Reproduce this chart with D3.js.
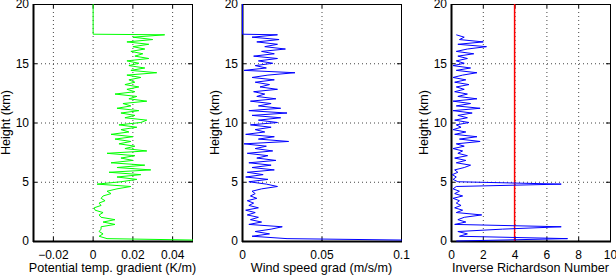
<!DOCTYPE html>
<html>
<head>
<meta charset="utf-8">
<script src="https://cdn.jsdelivr.net/npm/d3@7"></script>
<style>
body { margin: 0; background: #fff; }
svg text { font-family: "Liberation Sans", Arial, sans-serif; font-size: 12px; fill: #000; }
svg text.label { font-size: 12.6px; }
</style>
</head>
<body>
<svg id="chart" width="616" height="276"></svg>
<script>
// heights of the profile (km)
var heights = [0, 0.2, 0.4, 0.6, 0.8, 1.0, 1.2, 1.4, 1.6, 1.8,
  2.0, 2.2, 2.4, 2.6, 2.8, 3.0, 3.2, 3.4, 3.6, 3.8,
  4.0, 4.2, 4.4, 4.6, 4.8, 5.0, 5.2, 5.4, 5.6, 5.8,
  6.0, 6.2, 6.4, 6.6, 6.8, 7.0, 7.2, 7.4, 7.6, 7.8,
  8.0, 8.2, 8.4, 8.6, 8.8, 9.0, 9.2, 9.4, 9.6, 9.8,
  10.0, 10.2, 10.4, 10.6, 10.8, 11.0, 11.2, 11.4, 11.6, 11.8,
  12.0, 12.2, 12.4, 12.6, 12.8, 13.0, 13.2, 13.4, 13.6, 13.8,
  14.0, 14.2, 14.4, 14.6, 14.8, 15.0, 15.2, 15.4, 15.6, 15.8,
  16.0, 16.2, 16.4, 16.6, 16.8, 17.0, 17.2, 17.4, 17.45, 20];

// potential temperature gradient (K/m)
var thetaGrad = [0.08, 0.007, 0.003, 0.005, 0.003, 0.004, 0.004, 0.011, 0.005, 0.011,
  0.004, 0.003, 0.005, 0.001, 0.0005, 0.004, 0.003, 0.006, 0.004, 0.005,
  0.009, 0.007, 0.012, 0.019, 0.002, 0.014, 0.022, 0.012, 0.024, 0.008,
  0.029, 0.012, 0.026, 0.009, 0.020, 0.014, 0.021, 0.007, 0.027, 0.016,
  0.021, 0.013, 0.019, 0.011, 0.020, 0.009, 0.018, 0.014, 0.022, 0.013,
  0.024, 0.027, 0.016, 0.021, 0.014, 0.023, 0.012, 0.019, 0.015, 0.027,
  0.018, 0.022, 0.011, 0.021, 0.017, 0.023, 0.016, 0.021, 0.018, 0.024,
  0.017, 0.032, 0.019, 0.026, 0.018, 0.023, 0.017, 0.028, 0.021, 0.025,
  0.019, 0.026, 0.020, 0.028, 0.017, 0.030, 0.020, 0.036, 0, 0];

// wind speed gradient (m/s/m)
var windGrad = [0.15, 0.028, 0.006, 0.017, 0.008, 0.018, 0.025, 0.004, 0.012, 0.005,
  0.010, 0.003, 0.008, 0.002, 0.010, 0.004, 0.007, 0.003, 0.009, 0.005,
  0.008, 0.006, 0.012, 0.022, 0.015, 0.004, 0.016, 0.002, 0.013, 0.003,
  0.020, 0.006, 0.018, 0.004, 0.021, 0.009, 0.016, 0.003, 0.019, 0.008,
  0.015, 0.001, 0.029, 0.010, 0.020, 0.002, 0.014, 0.008, 0.018, 0.005,
  0.022, 0.010, 0.024, 0.006, 0.028, 0.004, 0.024, 0.010, 0.018, 0.005,
  0.021, 0.009, 0.014, 0.007, 0.022, 0.011, 0.017, 0.008, 0.020, 0.006,
  0.016, 0.033, 0.001, 0.015, 0.008, 0.019, 0.010, 0.022, 0.007, 0.020,
  0.012, 0.027, 0.014, 0.022, 0.009, 0.023, 0.006, 0.022, 0, 0];

// inverse Richardson number
var invRi = [0.3, 7.3, 0.5, 1.0, 0.4, 3.2, 6.9, 0.2, 0.9, 0.4,
  0.8, 1.9, 0.3, 0.7, 0.2, 0.6, 0.3, 0.5, 0.1, 0.7,
  0.2, 0.5, 0.1, 0.3, 6.9, 0.4, 0.1, 0.3, 0.05, 0.4,
  0.2, 0.8, 1.2, 0.3, 0.9, 0.2, 1.0, 0.4, 0.7, 0.1,
  0.8, 0.3, 1.8, 0.5, 1.6, 0.2, 0.9, 0.1, 0.6, 0.3,
  1.1, 0.2, 1.0, 0.4, 1.3, 0.1, 1.8, 0.3, 1.2, 0.1,
  1.6, 0.4, 1.0, 0.2, 0.8, 0.3, 1.1, 0.2, 0.9, 0.1,
  0.7, 1.6, 0.3, 1.2, 0.1, 0.8, 0.3, 1.0, 0.4, 1.4,
  0.3, 1.0, 2.2, 0.4, 2.0, 0.5, 0.8, 0.3, null, null];

var riCritical = 4;

var yTicks = [0, 5, 10, 15, 20];
var thetaTicks = [-0.02, 0, 0.02, 0.04];
var windTicks = [0, 0.05, 0.1];
var riTicks = [0, 2, 4, 6, 8, 10];

var svg = d3.select("#chart");
var yTop = 4, yBottom = 241;

var y = d3.scaleLinear().domain([0, 20]).range([yBottom, yTop]);

var panels = [
  {left: 33, right: 192, domain: [-0.03, 0.05], ticks: thetaTicks, values: thetaGrad,
   color: "#00ff00", label: "Potential temp. gradient (K/m)",
   fmt: function(d) { return d === 0 ? "0" : d3.format(".2f")(d); }},
  {left: 242, right: 401, domain: [0, 0.1], ticks: windTicks, values: windGrad,
   color: "#0000ff", label: "Wind speed grad (m/s/m)",
   fmt: function(d) { return d === 0 ? "0" : String(d); }},
  {left: 451, right: 610, domain: [0, 10], ticks: riTicks, values: invRi,
   color: "#0000ff", label: "Inverse Richardson Number",
   fmt: d3.format("d")}
];

panels.forEach(function(p, i) {
  var x = d3.scaleLinear().domain(p.domain).range([p.left, p.right]);
  var g = svg.append("g");

  // dotted grid
  g.selectAll(".vgrid")
    .data(p.ticks.filter(function(t) { return x(t) > p.left + 1 && x(t) < p.right - 1; }))
    .enter().append("line")
      .attr("x1", function(d) { return x(d) + 0.5; })
      .attr("x2", function(d) { return x(d) + 0.5; })
      .attr("y1", yTop).attr("y2", yBottom)
      .attr("stroke", "#444").attr("stroke-width", 1)
      .attr("stroke-dasharray", "1,3");
  g.selectAll(".hgrid")
    .data(yTicks.filter(function(t) { return t > 0 && t < 20; }))
    .enter().append("line")
      .attr("x1", p.left).attr("x2", p.right)
      .attr("y1", function(d) { return y(d) + 0.5; })
      .attr("y2", function(d) { return y(d) + 0.5; })
      .attr("stroke", "#444").attr("stroke-width", 1)
      .attr("stroke-dasharray", "1,3");

  // axes with ticks pointing inward
  g.append("g")
    .attr("transform", "translate(0," + yBottom + ")")
    .call(d3.axisBottom(x).tickValues(p.ticks).tickFormat(p.fmt)
      .tickSizeInner(-4).tickSizeOuter(0).tickPadding(9));
  g.append("g")
    .attr("transform", "translate(" + p.left + ",0)")
    .call(d3.axisLeft(y).tickValues(yTicks).tickFormat(d3.format("d"))
      .tickSizeInner(-4).tickSizeOuter(0).tickPadding(4));
  g.append("g")
    .attr("transform", "translate(0," + yTop + ")")
    .call(d3.axisTop(x).tickValues(p.ticks).tickFormat("")
      .tickSizeInner(-4).tickSizeOuter(0));
  g.append("g")
    .attr("transform", "translate(" + p.right + ",0)")
    .call(d3.axisRight(y).tickValues(yTicks).tickFormat("")
      .tickSizeInner(-4).tickSizeOuter(0));
  g.selectAll(".domain").remove();
  g.selectAll(".tick line").attr("stroke", "#000");
  g.selectAll(".tick text").attr("fill", "#000")
    .style("font-family", "'Liberation Sans', Arial, sans-serif").style("font-size", "12px");

  // frame
  g.append("rect")
    .attr("x", p.left + 0.5).attr("y", yTop + 0.5)
    .attr("width", p.right - p.left).attr("height", yBottom - yTop)
    .attr("fill", "none").attr("stroke", "#000").attr("stroke-width", 1);
  g.append("line")
    .attr("x1", p.left + 0.5).attr("x2", p.left + 0.5)
    .attr("y1", yTop).attr("y2", yBottom + 1)
    .attr("stroke", "#000").attr("stroke-width", 2);
  g.append("line")
    .attr("x1", p.left).attr("x2", p.right + 1)
    .attr("y1", yBottom + 0.5).attr("y2", yBottom + 0.5)
    .attr("stroke", "#000").attr("stroke-width", 2);

  // clip
  svg.append("clipPath").attr("id", "clip" + i)
    .append("rect")
      .attr("x", p.left).attr("y", yTop)
      .attr("width", p.right - p.left + 1).attr("height", yBottom - yTop + 1.5);

  // critical value line for inverse Richardson number
  if (i === 2) {
    g.append("line")
      .attr("x1", x(riCritical)).attr("x2", x(riCritical))
      .attr("y1", yTop).attr("y2", yBottom)
      .attr("stroke", "#ff0000").attr("stroke-width", 1.5);
  }

  var pts = heights.map(function(h, k) { return {h: h, v: p.values[k]}; });
  var line = d3.line()
    .defined(function(d) { return d.v != null; })
    .x(function(d) { return x(d.v) + 0.5; })
    .y(function(d) { return y(d.h); });
  g.append("path")
    .datum(pts)
    .attr("clip-path", "url(#clip" + i + ")")
    .attr("d", line)
    .attr("fill", "none")
    .attr("stroke", p.color)
    .attr("stroke-width", 1);

  // axis labels
  g.append("text")
    .attr("class", "label")
    .attr("x", (p.left + p.right) / 2)
    .attr("y", 272)
    .attr("text-anchor", "middle")
    .text(p.label);
  g.append("text")
    .attr("class", "label")
    .attr("transform", "translate(" + (p.left - 23) + "," + ((yTop + yBottom) / 2) + ")rotate(-90)")
    .attr("text-anchor", "middle")
    .text("Height (km)");
});
</script>
</body>
</html>
